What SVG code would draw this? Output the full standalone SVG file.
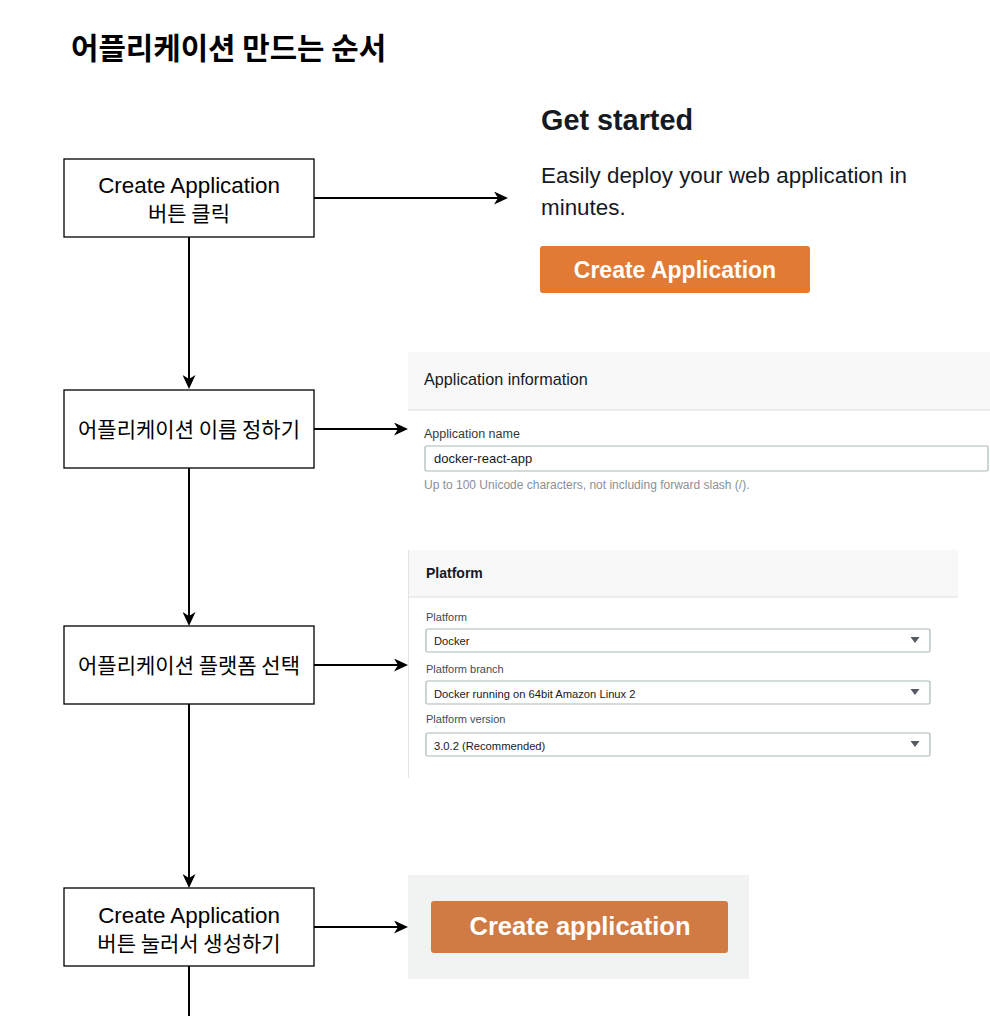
<svg xmlns="http://www.w3.org/2000/svg" width="990" height="1016" viewBox="0 0 990 1016">
<style>
.box{fill:#ffffff;stroke:#000000;stroke-width:1.3}
.lbl{font-family:"Liberation Sans","Noto Sans CJK KR",sans-serif;fill:#000000;text-anchor:middle}
.en{font-size:22.4px}
.ko{font-family:"Noto Sans CJK KR","Liberation Sans",sans-serif;font-size:21px}
.conn{fill:none;stroke:#000000;stroke-width:2}
.ui{font-family:"Liberation Sans",Arial,sans-serif}
.hdr{fill:#f8f8f8}
.sep{stroke:#e6e8e8;stroke-width:1.5}
.field{fill:#ffffff;stroke:#aab7b8;stroke-width:1.2}
.flabel{font-size:11px;fill:#444b52}
.fval{font-size:11.2px;fill:#16191f}
.tri{fill:#545b64}
</style>
<defs>
<marker id="arr" viewBox="0 0 14 13" refX="8" refY="6.5" markerWidth="14" markerHeight="13" markerUnits="userSpaceOnUse" orient="auto">
<path d="M0,0 L14,6.5 L0,13 L4,6.5 Z" fill="#000000"/>
</marker>
</defs>
<rect width="990" height="1016" fill="#ffffff"/>

<text id="title" x="71" y="59" font-family="Noto Sans CJK KR,sans-serif" font-weight="bold" font-size="29.8" fill="#000000">어플리케이션 만드는 순서</text>

<g id="connectors">
<line class="conn" x1="314" y1="198" x2="502" y2="198" marker-end="url(#arr)"/>
<line class="conn" x1="314" y1="429" x2="402" y2="429" marker-end="url(#arr)"/>
<line class="conn" x1="314" y1="665" x2="402" y2="665" marker-end="url(#arr)"/>
<line class="conn" x1="314" y1="927" x2="402" y2="927" marker-end="url(#arr)"/>
<line class="conn" x1="189" y1="237" x2="189" y2="383" marker-end="url(#arr)"/>
<line class="conn" x1="189" y1="468" x2="189" y2="620" marker-end="url(#arr)"/>
<line class="conn" x1="189" y1="704" x2="189" y2="882" marker-end="url(#arr)"/>
<line class="conn" x1="189" y1="966" x2="189" y2="1016"/>
</g>

<g id="step1">
<rect class="box" x="64" y="159" width="250" height="78"/>
<text class="lbl en" x="189" y="193">Create Application</text>
<text class="lbl ko" x="189" y="220.5">버튼 클릭</text>
</g>
<g id="step2">
<rect class="box" x="64" y="390" width="250" height="78"/>
<text class="lbl ko" x="189" y="437">어플리케이션 이름 정하기</text>
</g>
<g id="step3">
<rect class="box" x="64" y="626" width="250" height="78"/>
<text class="lbl ko" x="189" y="673">어플리케이션 플랫폼 선택</text>
</g>
<g id="step4">
<rect class="box" x="64" y="888" width="250" height="78"/>
<text class="lbl en" x="189" y="923">Create Application</text>
<text class="lbl ko" x="189" y="950.5">버튼 눌러서 생성하기</text>
</g>

<g id="shot-get-started" class="ui">
<text x="541" y="130" font-size="28.8" font-weight="bold" fill="#16191f">Get started</text>
<text x="541" y="183" font-size="22.4" fill="#16191f">Easily deploy your web application in</text>
<text x="541" y="215" font-size="22.4" fill="#16191f">minutes.</text>
<rect x="540" y="246" width="270" height="47" rx="3" fill="#e07a35"/>
<text x="675" y="278" font-size="23" font-weight="bold" fill="#ffffff" text-anchor="middle">Create Application</text>
</g>

<g id="shot-app-info" class="ui">
<rect class="hdr" x="408" y="352" width="582" height="58"/>
<line class="sep" x1="408" y1="410" x2="990" y2="410"/>
<text x="424" y="385" font-size="16.2" fill="#16191f">Application information</text>
<text x="424" y="438" font-size="12.5" fill="#333a41">Application name</text>
<rect class="field" x="425" y="446" width="563" height="25" rx="1.5"/>
<text x="434" y="463" font-size="13" fill="#16191f">docker-react-app</text>
<text x="424" y="489" font-size="12" fill="#879196">Up to 100 Unicode characters, not including forward slash (/).</text>
</g>

<g id="shot-platform" class="ui">
<rect class="hdr" x="408" y="550" width="550" height="47"/>
<line class="sep" x1="408" y1="597" x2="958" y2="597"/>
<line x1="408.5" y1="550" x2="408.5" y2="778" stroke="#e3e5e5" stroke-width="1"/>
<text x="426" y="578" font-size="14" font-weight="bold" fill="#16191f">Platform</text>
<text class="flabel" x="426" y="621">Platform</text>
<rect class="field" x="426" y="629" width="504" height="23" rx="1.5"/>
<text class="fval" x="434" y="645">Docker</text>
<path class="tri" d="M910.5,637 L919.5,637 L915,643 Z"/>
<text class="flabel" x="426" y="673">Platform branch</text>
<rect class="field" x="426" y="681" width="504" height="23" rx="1.5"/>
<text class="fval" x="434" y="698">Docker running on 64bit Amazon Linux 2</text>
<path class="tri" d="M910.5,689 L919.5,689 L915,695 Z"/>
<text class="flabel" x="426" y="723">Platform version</text>
<rect class="field" x="426" y="733" width="504" height="23" rx="1.5"/>
<text class="fval" x="434" y="750">3.0.2 (Recommended)</text>
<path class="tri" d="M910.5,741 L919.5,741 L915,747 Z"/>
</g>

<g id="shot-create" class="ui">
<rect x="408" y="875" width="341" height="104" fill="#f1f2f2"/>
<rect x="431" y="901" width="297" height="52" rx="3" fill="#d07b44"/>
<text x="580" y="935" font-size="25.5" font-weight="bold" fill="#ffffff" text-anchor="middle">Create application</text>
</g>
</svg>
